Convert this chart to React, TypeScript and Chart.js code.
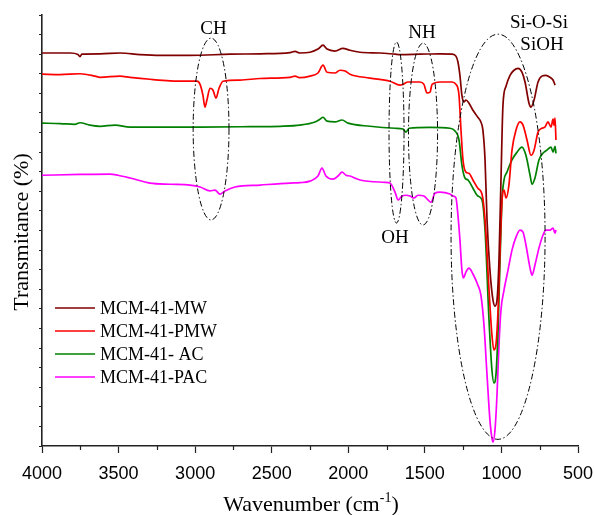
import React, { useEffect, useRef } from 'react';
import { Chart, registerables } from 'chart.js';

Chart.register(...registerables);

const SERIES_LABELS = ['MCM-41-MW', 'MCM-41-PMW', 'MCM-41- AC', 'MCM-41-PAC'];
const SERIES_COLORS = ['#800000', '#ff0000', '#008000', '#ff00ff'];
const X_MAJOR_TICKS = [4000, 3500, 3000, 2500, 2000, 1500, 1000, 500];
const X_MINOR_TICKS = [3750, 3250, 2750, 2250, 1750, 1250, 750];

// [wavenumber (cm-1), transmittance (a.u., offset)]
const mcmMW: number[][] = [
  [4000, 100.3], [3880, 100.3], [3815, 100.3], [3765, 99.9], [3752, 99.4], [3740, 100.0], [3620, 100.1],
  [3490, 100.3], [3360, 99.9], [3230, 99.7], [3035, 99.7], [2770, 100.0], [2575, 100.1], [2380, 100.4],
  [2348, 100.7], [2315, 100.3], [2250, 100.5], [2198, 101.3], [2165, 102.3], [2139, 101.3], [2087, 100.8],
  [2035, 101.5], [1990, 101.0], [1923, 100.5], [1793, 100.3], [1695, 100.0], [1662, 99.9], [1532, 100.0],
  [1400, 100.1], [1323, 100.0], [1297, 99.5], [1284, 98.0], [1271, 94.6], [1258, 89.5], [1245, 87.8],
  [1232, 88.3], [1212, 87.5], [1186, 85.7], [1154, 83.9], [1134, 82.7], [1121, 80.6], [1107, 73.0],
  [1094, 57.7], [1075, 44.9], [1055, 37.2], [1042, 35.7], [1029, 37.2], [1016, 47.4], [1003, 67.9],
  [990, 87.0], [970, 91.8], [944, 94.6], [918, 95.9], [892, 96.4], [866, 95.4], [846, 92.9], [820, 87.5],
  [807, 86.5], [787, 88.3], [761, 92.9], [736, 94.4], [709, 94.6], [683, 94.1], [663, 93.4], [650, 92.1],
];

const mcmPMW: number[][] = [
  [4000, 94.9], [3882, 94.8], [3752, 95.0], [3654, 94.4], [3621, 94.1], [3491, 94.4], [3425, 94.1],
  [3295, 93.6], [3164, 93.2], [3034, 93.1], [2988, 93.1], [2968, 92.3], [2949, 89.5], [2936, 86.5],
  [2923, 88.3], [2903, 91.3], [2883, 90.8], [2864, 88.8], [2844, 91.3], [2818, 93.1], [2707, 93.4],
  [2576, 93.8], [2381, 94.1], [2348, 94.4], [2315, 94.0], [2250, 94.4], [2198, 95.2], [2165, 97.2],
  [2139, 95.4], [2087, 95.2], [2054, 95.9], [2021, 95.7], [1989, 94.9], [1858, 93.9], [1728, 93.1],
  [1662, 92.1], [1643, 92.3], [1610, 92.9], [1532, 92.9], [1506, 92.3], [1486, 90.1], [1466, 90.3],
  [1453, 92.3], [1401, 92.9], [1323, 92.9], [1297, 92.3], [1277, 89.5], [1264, 80.6], [1251, 73.0],
  [1232, 69.9], [1212, 69.6], [1186, 67.9], [1154, 65.8], [1127, 64.3], [1107, 57.7], [1081, 39.8],
  [1062, 28.3], [1049, 24.5], [1036, 25.8], [1022, 34.7], [1009, 50.0], [996, 62.8], [983, 65.3],
  [970, 63.3], [951, 66.6], [931, 75.5], [905, 80.6], [879, 82.7], [859, 81.9], [833, 78.1], [807, 74.2],
  [787, 75.5], [761, 80.1], [736, 81.1], [716, 81.4], [696, 82.7], [676, 81.4], [663, 83.4], [657, 81.9],
  [650, 83.7], [644, 78.1],
];

const mcmAC: number[][] = [
  [4000, 82.4], [3882, 82.3], [3785, 82.1], [3752, 82.5], [3687, 81.9], [3621, 81.6], [3523, 81.9],
  [3425, 81.4], [3230, 81.4], [2968, 81.4], [2642, 81.5], [2446, 81.6], [2315, 81.9], [2217, 82.7],
  [2185, 83.4], [2165, 83.9], [2139, 82.9], [2087, 82.7], [2041, 83.2], [2002, 82.4], [1858, 81.6],
  [1695, 81.1], [1643, 80.9], [1623, 80.1], [1603, 81.1], [1466, 81.3], [1336, 81.1], [1303, 80.4],
  [1277, 78.1], [1258, 71.7], [1238, 68.4], [1219, 67.9], [1186, 65.8], [1154, 63.8], [1127, 62.8],
  [1107, 55.1], [1081, 32.1], [1062, 19.4], [1049, 16.1], [1036, 18.1], [1022, 29.6], [1009, 47.4],
  [996, 62.8], [983, 67.9], [964, 69.9], [931, 73.0], [898, 75.0], [866, 76.3], [840, 74.2], [813, 69.1],
  [800, 66.8], [781, 68.4], [755, 73.0], [729, 74.7], [703, 75.5], [676, 76.3], [663, 75.0], [650, 76.5],
  [644, 74.7],
];

const mcmPAC: number[][] = [
  [4000, 69.1], [3752, 69.3], [3556, 69.4], [3504, 69.1], [3425, 68.4], [3295, 67.1], [3164, 66.8],
  [3034, 66.6], [2968, 66.1], [2903, 65.1], [2870, 65.3], [2838, 64.3], [2805, 65.1], [2740, 66.1],
  [2576, 66.6], [2381, 67.1], [2315, 67.2], [2250, 67.6], [2198, 68.9], [2172, 70.9], [2146, 68.9],
  [2100, 68.1], [2067, 68.9], [2041, 69.9], [2015, 69.1], [1989, 68.9], [1923, 67.9], [1760, 67.3],
  [1728, 67.1], [1695, 64.8], [1675, 62.8], [1649, 63.8], [1623, 64.0], [1597, 63.8], [1571, 63.3],
  [1545, 64.0], [1506, 63.8], [1480, 62.8], [1460, 62.2], [1434, 64.5], [1401, 64.8], [1336, 64.3],
  [1316, 63.8], [1297, 63.3], [1284, 58.9], [1271, 52.6], [1258, 44.9], [1248, 42.9], [1232, 44.4],
  [1212, 45.4], [1186, 43.9], [1154, 41.1], [1134, 38.5], [1114, 30.9], [1094, 18.1], [1075, 6.6],
  [1062, 2.0], [1055, 1.0], [1042, 4.1], [1029, 13.0], [1016, 25.8], [1003, 34.7], [983, 39.8],
  [957, 44.9], [931, 50.0], [905, 53.3], [879, 55.1], [859, 54.6], [840, 51.3], [813, 45.4], [800, 43.6],
  [781, 46.2], [755, 50.5], [729, 53.8], [709, 55.1], [683, 55.1], [663, 55.6], [650, 54.3], [644, 55.1],
];

const SERIES_DATA = [mcmMW, mcmPMW, mcmAC, mcmPAC];

// Band-region ellipses: [centre wavenumber, centre value, half-width (cm-1), half-height]
const BAND_ELLIPSES: number[][] = [
  [2896, 80.9, 117, 23.2],
  [1685, 80.0, 49, 23.1],
  [1512, 79.6, 95, 23.2],
  [1022, 53.4, 307, 51.7],
];
const BAND_LABELS = ['CH', 'NH', 'OH', 'Si-O-Si', 'SiOH'];
const BAND_LABEL_POS: number[][] = [
  [2880, 106.4],
  [1519, 105.4],
  [1695, 53.1],
  [755, 107.9],
  [735, 102.3],
];

const SERIF = '"Liberation Serif", "Times New Roman", serif';
const SANS = '"Liberation Sans", Arial, sans-serif';

const decorPlugin = {
  id: 'decor',
  afterDraw(chart: any) {
    const ctx = chart.ctx;
    const xs = chart.scales.x;
    const ys = chart.scales.y;
    const area = chart.chartArea;
    ctx.save();

    // minor x ticks
    ctx.strokeStyle = '#222';
    ctx.lineWidth = 1.2;
    X_MINOR_TICKS.forEach((t) => {
      const px = Math.round(xs.getPixelForValue(t)) + 0.5;
      ctx.beginPath();
      ctx.moveTo(px, area.bottom);
      ctx.lineTo(px, area.bottom + 4);
      ctx.stroke();
    });

    // ellipses
    ctx.strokeStyle = '#000';
    ctx.lineWidth = 1;
    ctx.setLineDash([6, 2.5, 1.5, 2.5]);
    BAND_ELLIPSES.forEach(([cw, cv, rw, rv]) => {
      const cx = xs.getPixelForValue(cw);
      const cy = ys.getPixelForValue(cv);
      const rx = Math.abs(xs.getPixelForValue(cw + rw) - cx);
      const ry = Math.abs(ys.getPixelForValue(cv + rv) - cy);
      ctx.beginPath();
      ctx.ellipse(cx, cy, rx, ry, 0, 0, Math.PI * 2);
      ctx.stroke();
    });
    ctx.setLineDash([]);

    // band labels
    ctx.fillStyle = '#000';
    ctx.font = `19px ${SERIF}`;
    ctx.textAlign = 'center';
    ctx.textBaseline = 'middle';
    BAND_LABELS.forEach((lab, i) => {
      const [w, v] = BAND_LABEL_POS[i];
      ctx.fillText(lab, xs.getPixelForValue(w), ys.getPixelForValue(v));
    });

    // legend
    ctx.font = `18px ${SERIF}`;
    ctx.textAlign = 'left';
    chart.data.datasets.forEach((ds: any, i: number) => {
      const y = 308 + i * 23;
      ctx.strokeStyle = ds.borderColor;
      ctx.lineWidth = 1.5;
      ctx.beginPath();
      ctx.moveTo(55, y);
      ctx.lineTo(95, y);
      ctx.stroke();
      ctx.fillStyle = '#000';
      ctx.fillText(ds.label, 100, y + 1);
    });

    // y title
    ctx.save();
    ctx.translate(22, 232);
    ctx.rotate(-Math.PI / 2);
    ctx.font = `22px ${SERIF}`;
    ctx.textAlign = 'center';
    ctx.textBaseline = 'middle';
    ctx.fillText('Transmitance (%)', 0, 0);
    ctx.restore();

    // x title with superscript
    ctx.textBaseline = 'alphabetic';
    ctx.textAlign = 'left';
    const main = 'Wavenumber (cm';
    const sup = '-1';
    const close = ')';
    ctx.font = `22px ${SERIF}`;
    const wMain = ctx.measureText(main).width;
    const wClose = ctx.measureText(close).width;
    ctx.font = `14px ${SERIF}`;
    const wSup = ctx.measureText(sup).width;
    const total = wMain + wSup + wClose;
    let x0 = 311 - total / 2;
    const base = 511;
    ctx.font = `22px ${SERIF}`;
    ctx.fillText(main, x0, base);
    x0 += wMain;
    ctx.font = `14px ${SERIF}`;
    ctx.fillText(sup, x0, base - 9);
    x0 += wSup;
    ctx.font = `22px ${SERIF}`;
    ctx.fillText(close, x0, base);

    ctx.restore();
  },
};

export default function App() {
  const canvasRef = useRef<HTMLCanvasElement | null>(null);

  useEffect(() => {
    if (!canvasRef.current) return;
    const chart = new Chart(canvasRef.current, {
      type: 'line',
      data: {
        datasets: SERIES_DATA.map((arr, i) => ({
          label: SERIES_LABELS[i],
          data: arr.map(([x, y]) => ({ x, y })),
          borderColor: SERIES_COLORS[i],
          backgroundColor: SERIES_COLORS[i],
          borderWidth: 1.7,
          pointRadius: 0,
          cubicInterpolationMode: 'monotone' as const,
          fill: false,
        })),
      },
      options: {
        animation: false,
        responsive: false,
        devicePixelRatio: 1,
        layout: { padding: { top: 15, right: 17, bottom: 0, left: 0 } },
        plugins: {
          legend: { display: false },
          tooltip: { enabled: false },
        },
        scales: {
          x: {
            type: 'linear',
            reverse: true,
            min: 500,
            max: 4000,
            afterBuildTicks: (scale: any) => {
              scale.ticks = X_MAJOR_TICKS.map((v) => ({ value: v }));
            },
            afterFit: (scale: any) => {
              scale.height = 69;
              scale.paddingLeft = 0;
              scale.paddingRight = 0;
            },
            ticks: {
              font: { family: SANS, size: 18 },
              color: '#000',
              padding: 10,
              maxRotation: 0,
              autoSkip: false,
              callback: (v: any) => String(v),
            },
            grid: {
              drawOnChartArea: false,
              drawTicks: true,
              tickLength: 7,
              tickColor: '#222',
              tickWidth: 1.2,
            },
            border: { display: true, color: '#222', width: 1.6 },
          },
          y: {
            type: 'linear',
            min: 0,
            max: 110,
            afterFit: (scale: any) => {
              scale.width = 42;
              scale.paddingTop = 0;
              scale.paddingBottom = 0;
            },
            ticks: { stepSize: 5, display: false },
            grid: {
              drawOnChartArea: false,
              drawTicks: true,
              tickLength: 3,
              tickColor: '#222',
              tickWidth: 1.2,
            },
            border: { display: true, color: '#222', width: 1.6 },
          },
        },
      },
      plugins: [decorPlugin],
    });
    return () => chart.destroy();
  }, []);

  return (
    <div style={{ position: 'absolute', left: 0, top: 0, width: 595, height: 515, background: '#fff' }}>
      <canvas ref={canvasRef} width={595} height={515} style={{ display: 'block' }} />
    </div>
  );
}
